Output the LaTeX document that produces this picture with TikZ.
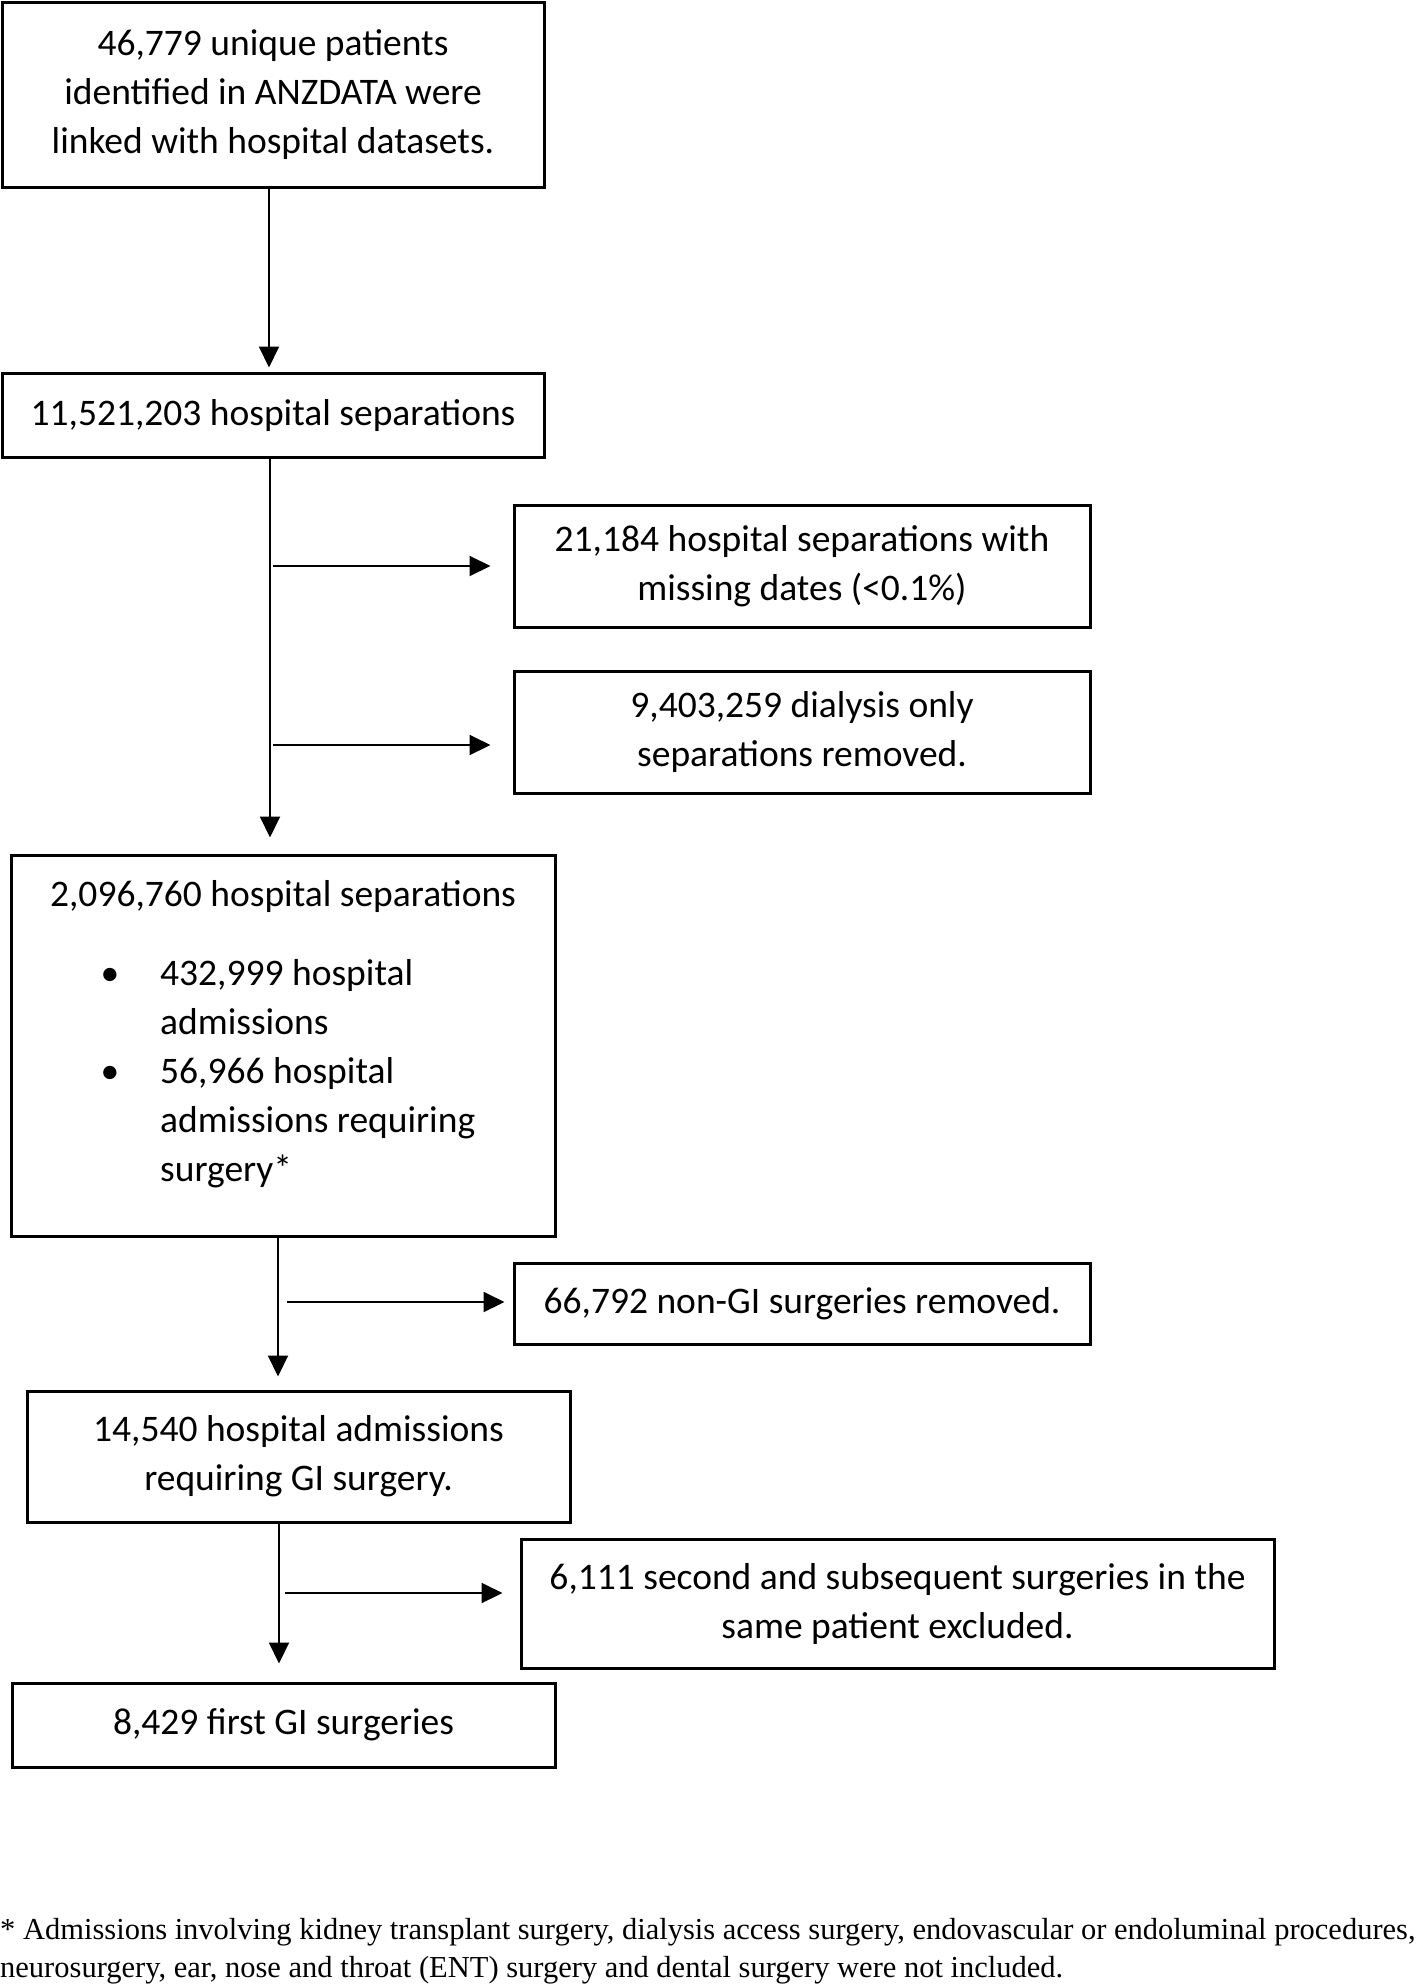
\documentclass[tikz,border=0pt]{standalone}
\usepackage{fontspec}
\setmainfont{Carlito}
\newfontfamily\fnfont{Liberation Serif}
\usetikzlibrary{arrows.meta}
\begin{document}
\begin{tikzpicture}[x=1pt,y=-1pt,
  box/.style={draw, line width=3pt, inner sep=0pt, align=center, font=\fontsize{37.5}{49}\selectfont},
  txt/.style={inner sep=0pt, anchor=base west, font=\fontsize{37.5}{49}\selectfont},
  arr/.style={line width=2pt, -{Triangle[length=21pt,width=20pt]}},
  foot/.style={inner sep=0pt, anchor=base west, font=\fnfont\fontsize{30.5}{38}\selectfont}]
\useasboundingbox (0,0) rectangle (1417,1984);
% boxes
\node[box, minimum width=542pt, minimum height=185pt] (n1) at (273,94.5) {46,779 unique patients\\identified in ANZDATA were\\linked with hospital datasets.};
\node[box, minimum width=542pt, minimum height=84pt] (n2) at (273,415) {11,521,203 hospital separations};
\node[box, minimum width=576pt, minimum height=122pt] (n3) at (802,566) {21,184 hospital separations with\\missing dates (<0.1\%)};
\node[box, minimum width=576pt, minimum height=122pt] (n4) at (802,732) {9,403,259 dialysis only\\separations removed.};
\node[box, minimum width=544pt, minimum height=381pt] (n5) at (283,1045.5) {};
\node[box, minimum width=576pt, minimum height=81pt] (n6) at (802,1303.5) {66,792 non-GI surgeries removed.};
\node[box, minimum width=543pt, minimum height=131pt] (n7) at (298.5,1456.5) {14,540 hospital admissions\\requiring GI surgery.};
\node[box, minimum width=753pt, minimum height=129pt] (n8) at (897.5,1603.5) {6,111 second and subsequent surgeries in the\\same patient excluded.};
\node[box, minimum width=543pt, minimum height=84pt] (n9) at (283.5,1725) {8,429 first GI surgeries};
% text of box 5
\node[txt, anchor=base] (t5) at (283,906) {2,096,760 hospital separations};
\node[txt, anchor=base] (bu1) at (110,985) {\textbullet};
\node[txt] (t5a) at (160,985) {432,999 hospital};
\node[txt] (t5b) at (160,1034) {admissions};
\node[txt, anchor=base] (bu2) at (110,1083) {\textbullet};
\node[txt] (t5c) at (160,1083) {56,966 hospital};
\node[txt] (t5d) at (160,1132) {admissions requiring};
\node[txt] (t5e) at (160,1181) {surgery*};
% branch start points
\coordinate (b1) at (273,566);
\coordinate (b2) at (273,745);
\coordinate (b3) at (287,1302);
\coordinate (b4) at (285,1593);
% connectors
\draw[arr, shorten >=4pt] (n1.south -| 269,0) -- (n2.north -| 269,0);
\draw[arr, shorten >=16pt] (n2.south -| 270,0) -- (n5.north -| 270,0);
\draw[arr, shorten >=22pt] (b1) -- (b1 -| n3.west);
\draw[arr, shorten >=22pt] (b2) -- (b2 -| n4.west);
\draw[arr, shorten >=13pt] (n5.south -| 278,0) -- (n7.north -| 278,0);
\draw[arr, shorten >=8pt] (b3) -- (b3 -| n6.west);
\draw[arr, shorten >=18pt] (n7.south -| 279,0) -- (n9.north -| 279,0);
\draw[arr, shorten >=17pt] (b4) -- (b4 -| n8.west);
% footnote
\node[foot] (f1) at (0,1939) {* Admissions involving kidney transplant surgery, dialysis access surgery, endovascular or endoluminal procedures,};
\node[foot] (f2) at (0,1977) {neurosurgery, ear, nose and throat (ENT) surgery and dental surgery were not included.};
\end{tikzpicture}
\end{document}
